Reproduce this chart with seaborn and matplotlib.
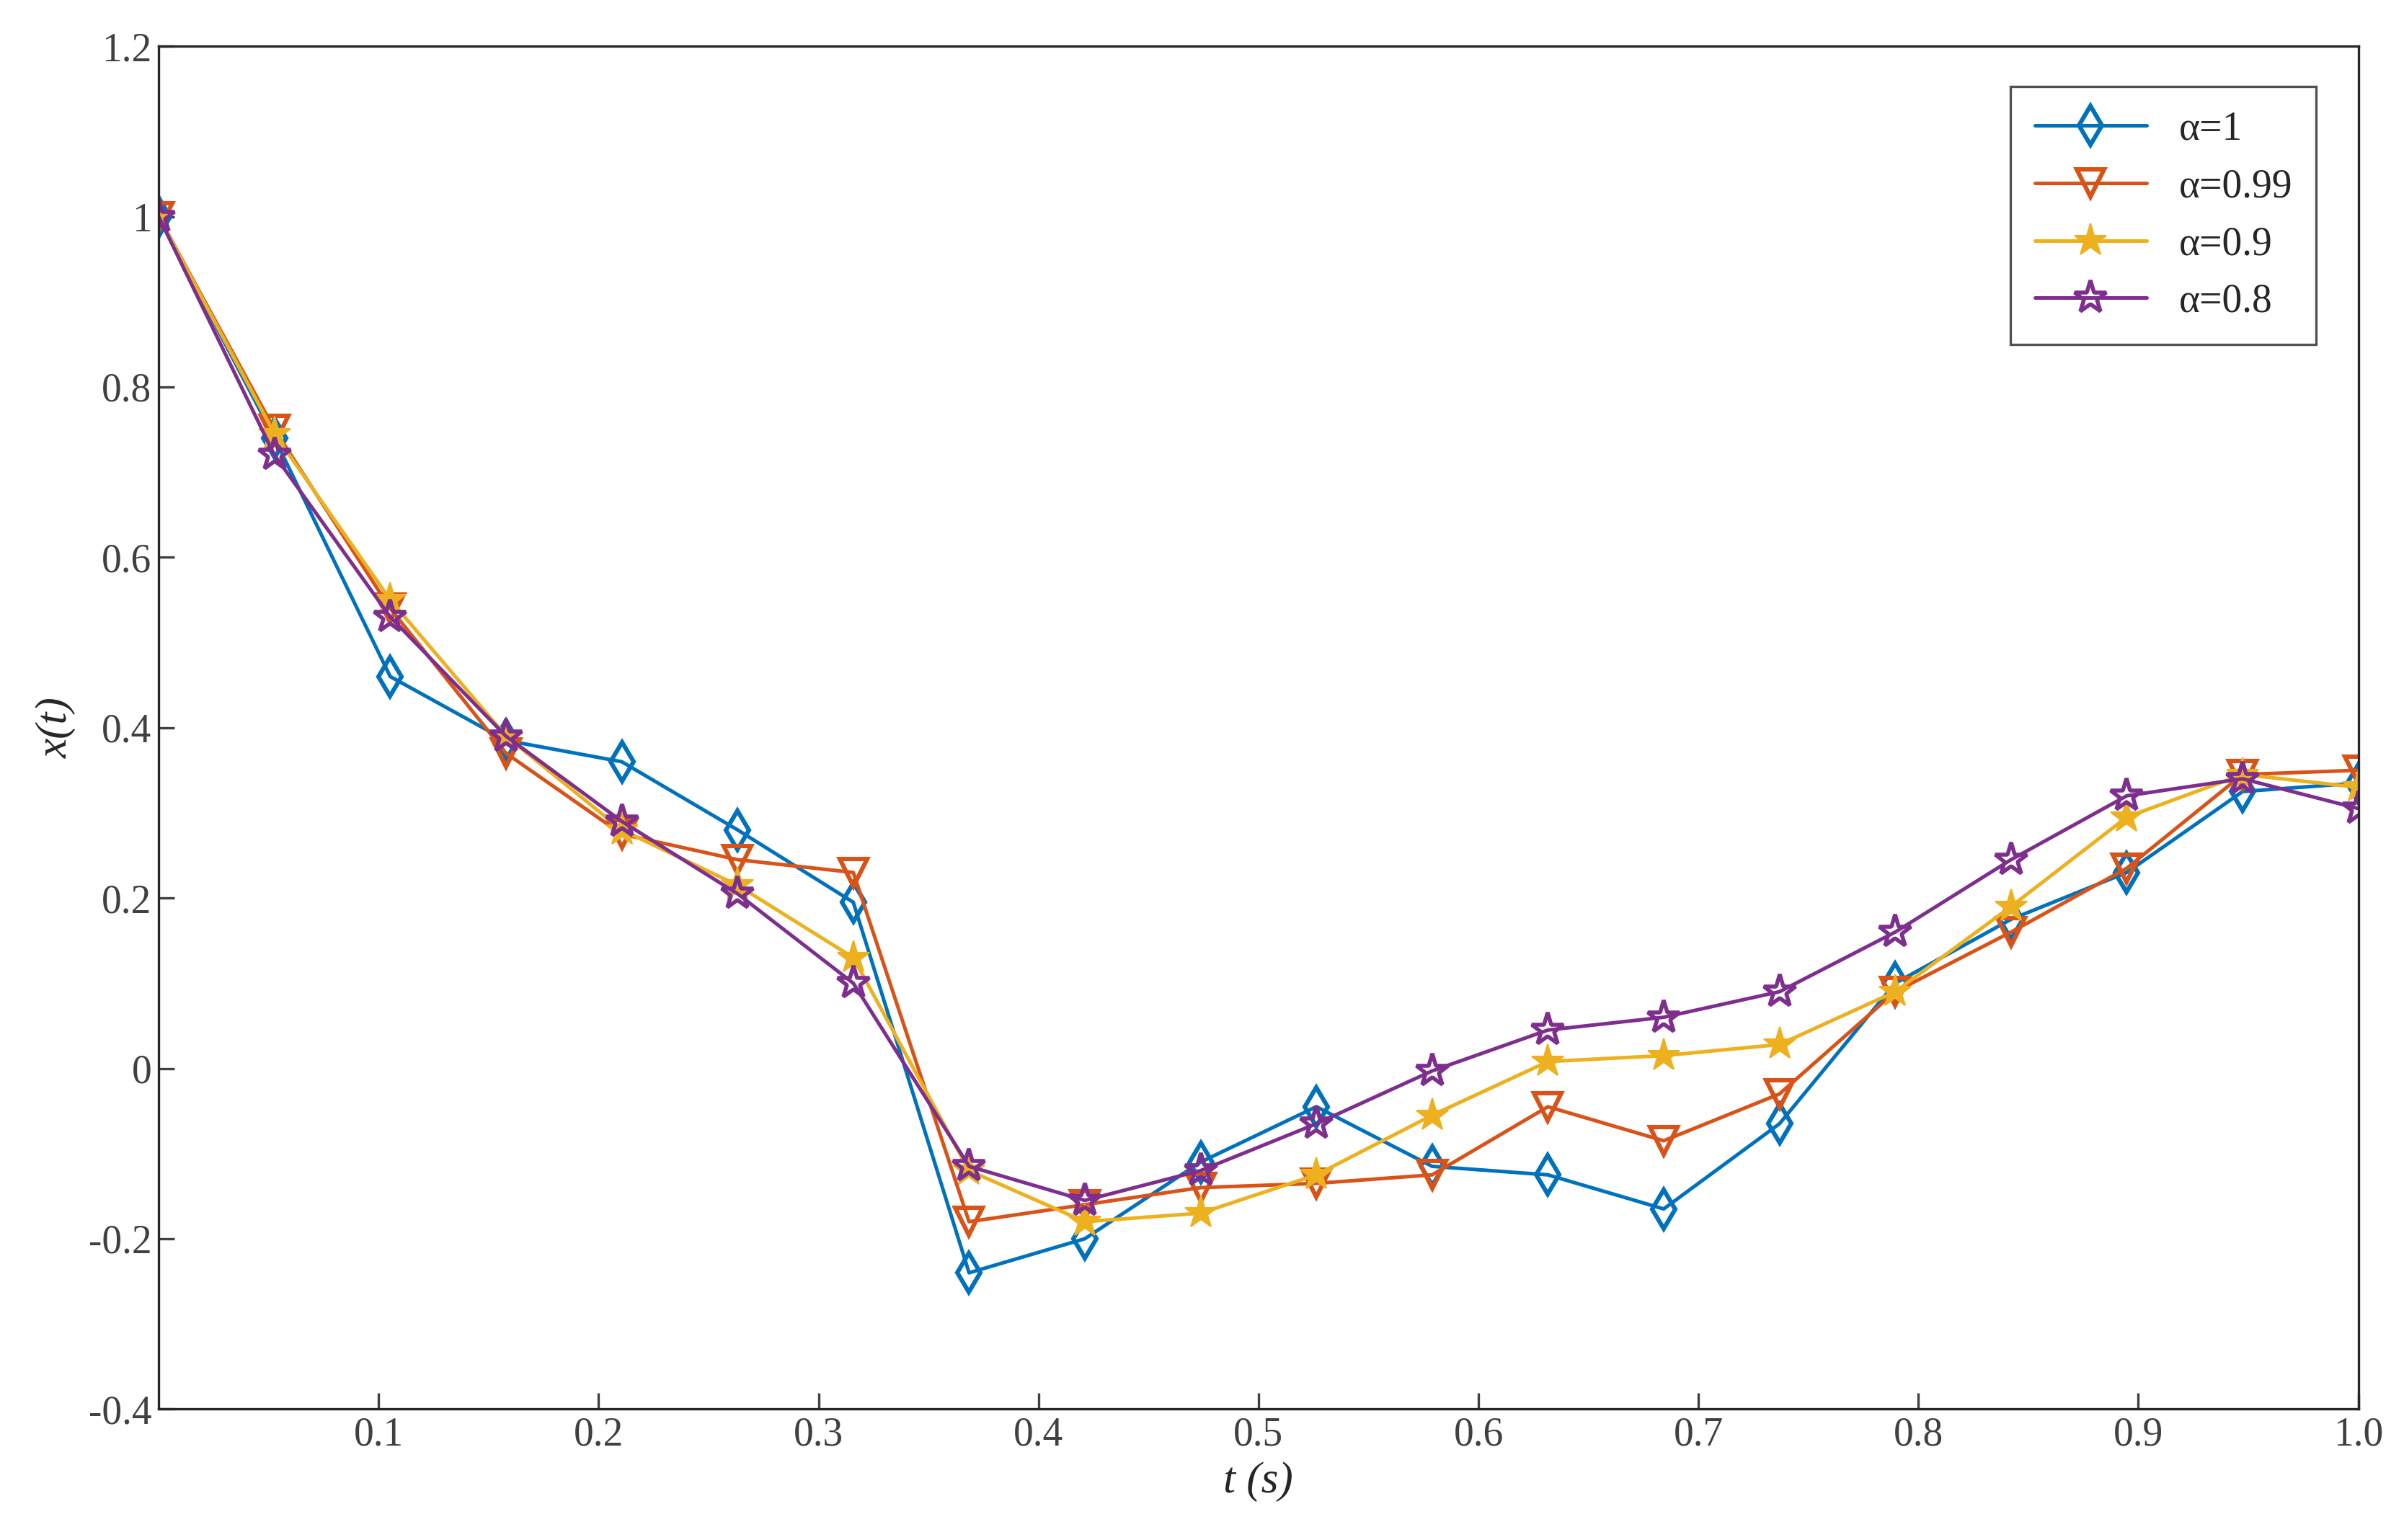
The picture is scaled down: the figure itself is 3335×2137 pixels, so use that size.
import matplotlib
matplotlib.use("Agg")
import matplotlib.pyplot as plt
import seaborn as sns
import numpy as np
import pandas as pd

t = [i / 19 for i in range(20)]
a1 = [1.0, 0.74, 0.46, 0.385, 0.36, 0.28, 0.195, -0.24, -0.20, -0.11, -0.045, -0.115, -0.125, -0.165, -0.065, 0.10, 0.175, 0.23, 0.325, 0.335]
a099 = [1.0, 0.75, 0.54, 0.37, 0.275, 0.245, 0.23, -0.18, -0.16, -0.14, -0.135, -0.125, -0.045, -0.085, -0.03, 0.09, 0.16, 0.235, 0.345, 0.35]
a09 = [1.0, 0.745, 0.55, 0.39, 0.28, 0.215, 0.13, -0.12, -0.18, -0.17, -0.125, -0.055, 0.008, 0.015, 0.028, 0.09, 0.19, 0.295, 0.345, 0.33]
a08 = [1.0, 0.72, 0.53, 0.39, 0.29, 0.205, 0.10, -0.115, -0.155, -0.12, -0.065, -0.003, 0.045, 0.06, 0.09, 0.16, 0.245, 0.32, 0.34, 0.305]
labels = ["α=1", "α=0.99", "α=0.9", "α=0.8"]
colors = ["#0072BD", "#D95319", "#EDB120", "#7E2F8E"]

sns.set_theme(style="white")
plt.rcParams['font.family'] = ['Liberation Serif', 'DejaVu Serif']

fig = plt.figure(figsize=(16.675, 10.685), dpi=200)
ax = fig.add_axes([0.066, 0.085, 0.915, 0.885])

series = [a1, a099, a09, a08]
markers = ["d", "v", "*", "*"]
for vals, lab, c, m in zip(series, labels, colors, markers):
    df = pd.DataFrame({"t": t, "x": vals})
    if lab == "α=0.9":
        mk = dict(marker=m, markersize=17, markerfacecolor=c, markeredgecolor=c)
    elif lab == "α=0.8":
        mk = dict(marker=m, markersize=17, markerfacecolor="none", markeredgecolor=c, markeredgewidth=2)
    else:
        mk = dict(marker=m, markersize=14, markerfacecolor="none", markeredgecolor=c, markeredgewidth=2.2)
    sns.lineplot(data=df, x="t", y="x", ax=ax, color=c, linewidth=1.8, label=lab, **mk)

ax.set_xlim(0, 1)
ax.set_ylim(-0.4, 1.2)
ax.set_xticks([0.1, 0.2, 0.3, 0.4, 0.5, 0.6, 0.7, 0.8, 0.9, 1.0])
ax.set_xticklabels(["0.1", "0.2", "0.3", "0.4", "0.5", "0.6", "0.7", "0.8", "0.9", "1.0"])
ax.set_yticks(np.arange(-0.4, 1.21, 0.2))
ax.set_yticklabels(["-0.4", "-0.2", "0", "0.2", "0.4", "0.6", "0.8", "1", "1.2"])
ax.tick_params(axis="both", labelsize=20, colors="#404040", direction="in", length=8, width=1.2,
               bottom=True, left=True)
for s in ax.spines.values():
    s.set_color("#262626")
    s.set_linewidth(1.2)
ax.set_xlabel("t (s)", fontsize=22, style="italic", color="#262626", labelpad=4)
ax.set_ylabel("x(t)", fontsize=22, style="italic", color="#262626", labelpad=6)
leg = ax.legend(loc="upper right", fontsize=20, frameon=True, fancybox=False, edgecolor="#262626",
                borderpad=0.6, handlelength=2.8, bbox_to_anchor=(0.99, 0.985))
leg.get_frame().set_linewidth(1.2)
fig.savefig("out.png", dpi=200)
